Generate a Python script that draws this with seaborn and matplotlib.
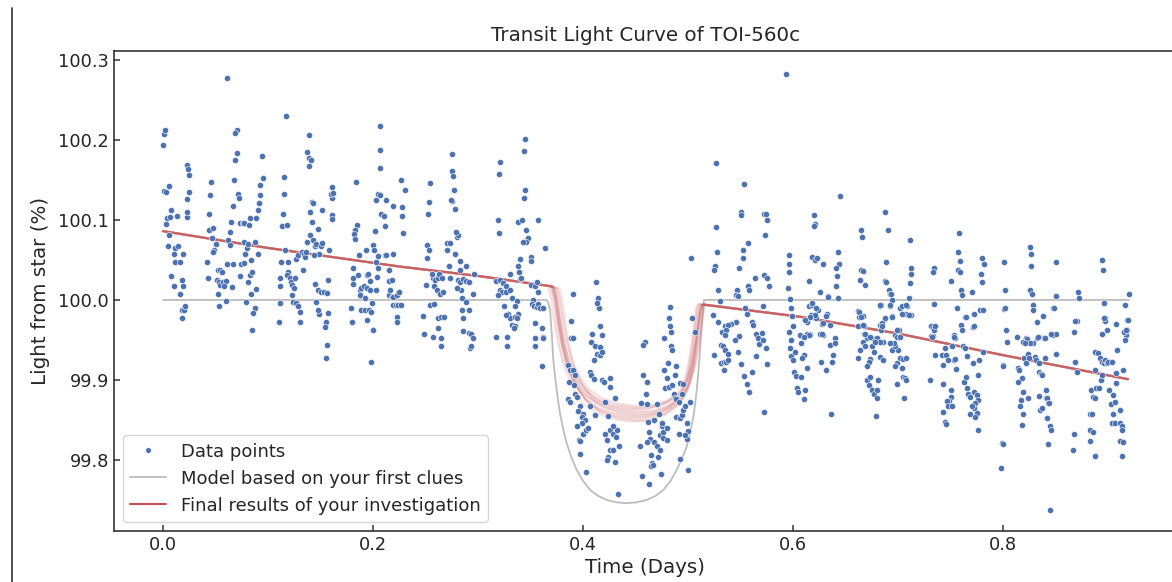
import numpy as np
import matplotlib
matplotlib.use("Agg")
import matplotlib.pyplot as plt
from matplotlib.lines import Line2D
import seaborn as sns

# ---------------- data ----------------
# pre-transit observations (days, % of star light)
pre_time = [
    0.000,0.001,0.002,0.001,0.003,0.006,0.003,0.004,0.007,0.008,0.013,0.006,0.005,0.011,0.014,0.010,0.011,0.016,0.008,0.010,
    0.019,0.018,0.019,0.016,0.018,0.020,0.018,0.021,0.023,0.024,0.025,0.023,0.025,0.023,0.023,
    0.046,0.045,0.044,0.044,0.048,0.047,0.050,0.049,0.048,0.042,0.043,0.052,0.054,0.056,0.051,0.053,0.054,0.057,0.060,0.058,
    0.052,0.053,0.060,0.066,0.061,0.070,0.069,0.070,0.069,0.068,0.071,0.072,0.067,0.065,0.064,0.062,0.064,0.061,0.067,0.074,
    0.077,0.073,0.076,0.077,0.082,0.083,0.077,0.080,0.078,0.081,0.088,0.090,0.073,0.084,0.083,0.085,0.081,0.089,0.084,0.079,
    0.088,0.086,0.085,0.094,0.095,0.092,0.092,0.091,0.090,0.089,
    0.117,0.115,0.115,0.114,0.113,0.118,0.116,0.112,0.111,0.111,0.111,0.110,0.119,0.119,0.118,0.121,0.122,0.123,0.126,0.125,
    0.123,0.124,0.127,0.129,0.130,0.130,0.127,0.129,0.132,0.134,0.135,0.136,0.133,0.137,0.140,0.143,0.145,0.146,0.149,0.144,
    0.139,0.137,0.139,0.141,0.139,0.142,0.143,0.140,0.142,0.148,0.150,0.151,0.145,0.148,0.150,0.153,0.156,0.157,0.146,0.149,
    0.148,0.155,0.154,0.157,0.158,0.161,0.161,0.160,0.162,0.161,0.161,0.151,0.1565,0.155,
    0.184,0.185,0.183,0.182,0.183,0.187,0.193,0.181,0.181,0.186,0.181,0.179,0.180,0.188,0.189,0.191,0.188,0.194,0.195,0.197,
    0.194,0.197,0.192,0.189,0.192,0.196,0.198,0.194,0.200,0.199,0.200,0.201,0.203,0.205,0.205,0.202,0.203,0.205,0.207,0.207,
    0.207,0.207,0.208,0.210,0.211,0.212,0.211,0.212,0.204,0.203,0.219,0.219,0.215,0.215,0.218,0.215,0.218,0.219,0.223,0.225,
    0.216,0.219,0.222,0.224,0.227,0.223,0.223,0.227,0.228,0.228,0.230,0.229,0.198,
    0.253,0.252,0.275,0.278,0.251,0.253,0.251,0.270,0.273,0.270,0.278,0.280,0.281,0.279,0.283,0.289,0.272,0.283,0.250,0.257,
    0.256,0.259,0.258,0.261,0.264,0.267,0.262,0.263,0.266,0.273,0.281,0.283,0.286,0.289,0.291,0.296,0.295,0.284,0.280,0.285,
    0.289,0.291,0.285,0.286,0.254,0.258,0.262,0.265,0.268,0.248,0.249,0.257,0.262,0.265,0.265,0.286,0.291,0.293,0.295,0.292,
    0.293,0.254,0.275,0.275,0.276,0.277,0.274,
    0.319,0.320,0.338,0.342,0.346,0.348,0.346,0.343,0.357,0.364,0.340,0.350,0.350,0.338,0.339,0.330,0.340,0.341,0.317,0.321,
    0.324,0.327,0.321,0.323,0.319,0.327,0.330,0.350,0.354,0.332,0.337,0.325,0.335,0.338,0.329,0.330,0.327,0.335,0.337,0.332,
    0.335,0.334,0.328,0.328,0.317,0.352,0.351,0.353,0.356,0.357,0.359,0.362,0.354,0.361,0.362,0.362,0.354,0.354,0.361,0.357,
    0.356,0.321,0.320,0.345,0.344,0.345,0.344,
]
pre_flux = [
    100.194,100.207,100.212,100.136,100.135,100.143,100.095,100.103,100.104,100.112,100.105,100.081,100.068,100.065,100.067,100.058,100.048,100.048,100.030,100.017,
    100.058,100.025,100.018,100.007,99.988,99.987,99.977,99.993,100.169,100.164,100.156,100.126,100.135,100.104,100.110,
    100.148,100.131,100.107,100.088,100.090,100.077,100.070,100.063,100.060,100.048,100.028,100.038,100.038,100.035,100.025,100.022,100.019,100.023,100.024,100.017,
    100.008,99.993,99.999,100.016,100.277,100.212,100.209,100.184,100.175,100.150,100.133,100.128,100.117,100.098,100.085,100.075,100.069,100.045,100.045,100.045,
    100.046,100.096,100.096,100.096,100.094,100.103,100.072,100.065,100.058,100.070,100.073,100.058,100.030,100.050,100.031,100.035,100.023,100.014,100.008,99.998,
    99.990,99.984,99.963,100.180,100.153,100.144,100.131,100.121,100.113,100.102,
    100.230,100.154,100.133,100.108,100.092,100.094,100.063,100.047,100.028,100.018,99.996,99.972,100.047,100.035,100.031,100.027,100.023,100.019,100.028,100.015,
    100.006,99.998,99.996,99.992,99.985,99.972,100.051,100.056,100.060,100.058,100.054,100.060,100.038,100.072,100.081,100.075,100.068,100.070,100.058,100.056,
    100.206,100.185,100.177,100.175,100.167,100.122,100.121,100.110,100.098,100.089,100.067,100.071,100.020,100.012,100.010,100.010,100.009,100.025,99.998,99.983,
    99.988,99.973,99.966,99.984,100.063,100.141,100.128,100.133,100.134,100.106,100.101,100.113,99.944,99.928,
    100.147,100.094,100.088,100.083,100.076,100.056,100.063,100.040,100.027,100.031,100.020,99.990,99.973,100.013,100.015,100.017,100.006,100.031,100.032,100.024,
    100.015,100.013,100.002,99.988,99.988,99.987,99.985,99.975,99.963,99.996,100.069,100.063,100.048,100.040,100.055,100.086,100.125,100.133,100.131,100.165,
    100.188,100.217,100.108,100.105,100.092,100.125,100.056,100.056,100.029,100.013,100.118,100.058,100.038,100.024,100.025,100.006,100.004,100.004,100.006,100.010,
    100.013,99.994,99.994,99.994,99.994,99.979,99.973,100.150,100.116,100.105,100.137,100.084,99.922,
    100.122,100.108,100.124,100.114,100.069,100.063,100.052,100.071,100.071,100.063,100.058,100.079,100.081,100.085,100.049,100.043,100.042,100.038,100.019,100.027,
    100.033,100.025,100.018,100.013,100.008,100.010,100.028,100.033,100.027,100.028,100.025,100.022,100.026,100.024,100.022,100.033,100.008,100.013,100.015,100.003,
    99.998,99.988,99.988,99.977,99.994,99.995,99.977,99.979,99.979,99.980,99.957,99.954,99.965,99.952,99.943,99.961,99.959,99.958,99.953,99.940,
    99.942,100.146,100.182,100.161,100.155,100.138,100.125,
    100.100,100.084,100.098,100.100,100.088,100.077,100.073,100.073,100.100,100.065,100.051,100.054,100.049,100.042,100.035,100.033,100.026,100.028,100.024,100.025,
    100.021,100.017,100.013,100.010,100.006,100.010,100.013,100.019,100.018,100.003,99.999,99.992,99.992,99.983,99.983,99.977,99.981,99.979,99.978,99.969,
    99.967,99.965,99.954,99.943,99.954,100.000,99.995,99.992,99.991,99.995,99.990,99.990,99.971,99.965,99.954,99.953,99.952,99.942,99.918,100.010,
    100.023,100.172,100.157,100.201,100.186,100.138,100.128,
]

# in-transit observations
mid_time = [
    0.390,0.389,0.389,0.390,0.386,0.388,0.390,0.392,0.387,0.391,0.386,0.388,0.392,0.394,0.397,0.395,0.400,0.399,0.402,0.399,
    0.394,0.396,0.397,0.400,0.403,0.405,0.397,0.403,0.407,0.408,0.410,0.407,0.411,0.412,0.414,0.415,0.413,0.416,0.409,0.408,
    0.411,0.413,0.418,0.416,0.416,0.418,0.410,0.418,0.420,0.426,0.426,0.430,0.421,0.424,0.421,0.423,0.426,0.429,0.431,0.432,
    0.429,0.426,0.424,0.423,0.429,0.434,0.430,0.433,
    0.459,0.457,0.457,0.461,0.460,0.455,0.461,0.470,0.472,0.462,0.468,0.463,0.464,0.454,0.461,0.468,0.470,0.473,0.471,0.473,
    0.476,0.480,0.475,0.476,0.475,0.480,0.465,0.466,0.465,0.467,0.463,0.456,0.474,0.483,0.482,0.483,0.484,0.484,0.485,0.477,
    0.481,0.477,0.480,0.478,0.482,0.485,0.489,0.488,0.492,0.495,0.487,0.488,0.489,0.489,0.492,0.494,0.495,0.497,0.502,0.494,
    0.491,0.491,0.499,0.500,0.499,0.497,0.492,0.500,0.504,0.507,0.503,
]
mid_flux = [
    100.007,99.974,99.953,99.953,99.919,99.913,99.912,99.906,99.898,99.894,99.876,99.873,99.883,99.879,99.867,99.861,99.858,99.854,99.850,99.846,
    99.842,99.825,99.824,99.833,99.838,99.840,99.808,99.785,99.910,99.906,99.901,99.867,99.856,100.022,100.003,99.990,99.996,99.968,99.958,99.948,
    99.942,99.933,99.956,99.941,99.931,99.935,99.925,99.900,99.897,99.903,99.891,99.878,99.873,99.855,99.833,99.825,99.838,99.833,99.829,99.838,
    99.842,99.813,99.804,99.800,99.813,99.817,99.798,99.757,
    99.948,99.944,99.906,99.897,99.882,99.871,99.870,99.870,99.858,99.847,99.850,99.835,99.826,99.818,99.823,99.823,99.817,99.812,99.804,99.831,
    99.827,99.825,99.842,99.835,99.846,99.840,99.806,99.796,99.792,99.794,99.770,99.780,99.783,99.991,99.977,99.967,99.960,99.942,99.938,99.952,
    99.921,99.913,99.902,99.890,99.891,99.894,99.918,99.906,99.896,99.895,99.883,99.877,99.876,99.854,99.852,99.856,99.863,99.867,99.873,99.883,
    99.873,99.833,99.846,99.836,99.826,99.831,99.801,99.787,99.977,99.960,100.053,
]

# post-transit observations
post_time = [
    0.527,0.528,0.526,0.525,0.529,0.530,0.524,0.529,0.525,0.532,0.535,0.531,0.533,0.535,0.538,0.531,0.534,0.536,0.534,0.538,
    0.527,0.553,0.550,0.550,0.572,0.574,0.593,0.620,
    0.557,0.552,0.552,0.549,0.547,0.546,0.548,0.557,0.558,0.554,0.556,0.546,0.541,0.538,0.536,0.535,0.549,0.561,0.562,0.565,
    0.567,0.570,0.575,0.573,0.572,0.575,0.577,0.571,0.564,
    0.545,0.548,0.550,0.553,0.556,0.558,0.561,0.565,0.568,0.572,0.575,0.574,0.571,0.596,0.598,0.601,0.604,0.597,0.600,0.603,
    0.598,0.605,0.602,
    0.596,0.596,0.596,0.595,0.597,0.598,0.599,0.600,0.607,0.615,0.621,0.620,0.618,0.621,0.623,0.629,0.626,0.615,0.618,0.618,
    0.617,0.622,0.624,0.613,0.613,0.628,0.629,0.632,0.631,0.635,0.627,0.629,0.616,0.616,0.633,0.633,0.645,0.643,0.644,0.641,
    0.642,0.641,0.643,0.640,
    0.608,0.610,0.609,0.613,0.608,0.611,0.610,0.636,0.631,0.638,0.637,0.627,0.635,0.640,0.622,0.621,0.616,0.611,0.613,0.615,
    0.610,0.626,0.628,
    0.665,0.666,0.665,0.667,0.664,0.669,0.662,0.663,0.667,0.662,0.668,0.668,0.670,0.675,0.688,0.690,0.689,0.688,0.689,0.691,
    0.692,0.693,0.694,0.683,0.684,0.692,0.688,0.694,0.683,0.684,0.697,0.699,0.702,0.701,0.709,0.710,0.708,0.712,0.711,0.711,
    0.712,0.712,
    0.663,0.665,0.667,0.669,0.673,0.680,0.685,0.685,0.688,0.694,0.692,0.704,0.708,0.710,0.704,0.699,0.702,0.683,
    0.662,0.670,0.672,0.675,0.677,0.680,0.679,0.680,0.681,0.673,0.677,0.683,0.686,0.673,0.672,0.670,0.664,0.667,0.669,0.675,
    0.699,0.697,0.702,0.704,0.705,0.707,0.708,0.705,0.708,0.699,0.706,0.694,0.700,0.697,0.696,0.692,0.686,0.683,0.678,
    0.734,0.733,0.734,0.731,0.733,0.734,0.731,0.733,0.750,0.753,0.754,0.758,0.757,0.759,0.757,0.759,0.760,0.761,0.756,0.760,
    0.761,0.764,0.770,0.772,0.771,0.778,0.781,0.779,0.780,0.780,0.782,
    0.735,0.765,0.772,
    0.730,0.735,0.732,0.743,0.743,0.742,0.745,0.746,0.748,0.751,0.753,0.754,0.755,0.750,0.750,0.749,0.747,0.748,0.751,0.743,
    0.745,0.746,0.753,0.762,0.764,0.766,0.771,0.763,0.765,0.766,0.767,0.769,0.772,0.775,0.776,0.773,0.772,0.775,0.770,0.769,
    0.773,0.776,0.776,0.777,0.781,
    0.801,0.802,0.801,0.803,0.813,0.822,0.826,0.827,0.827,0.826,0.828,0.829,0.829,0.832,0.838,0.834,0.839,0.848,0.849,0.850,
    0.850,0.848,0.850,
    0.802,0.819,0.823,
    0.799,0.800,0.798,0.800,0.800,0.804,0.814,0.815,0.818,0.814,0.819,0.817,0.816,0.819,0.818,0.820,0.824,0.825,0.822,0.830,
    0.831,0.834,0.824,0.834,0.836,0.837,0.834,0.835,0.837,0.841,0.842,0.843,0.844,0.842,0.845,0.846,0.843,0.841,0.840,0.829,
    0.826,0.821,0.832,0.833,0.845,0.850,0.840,0.846,
    0.871,0.872,0.870,0.868,0.894,0.895,0.896,0.897,0.897,0.899,0.894,0.908,0.916,0.918,0.919,0.918,0.917,0.920,
    0.868,0.867,0.869,0.870,0.884,0.883,0.885,0.883,0.886,0.883,0.888,0.886,0.888,0.889,0.891,0.888,0.890,0.892,0.894,0.896,
    0.897,0.899,0.900,0.904,0.888,0.893,0.894,0.901,0.905,0.903,0.907,0.905,0.904,0.907,0.908,0.911,0.911,0.913,0.913,0.911,
    0.914,0.913,0.908,0.909,0.914,0.916,0.915,0.917,0.896,0.869,
]
post_flux = [
    100.091,100.060,100.042,100.038,100.013,99.999,99.981,99.973,99.931,99.960,99.968,99.944,99.942,99.938,99.933,99.921,99.922,99.922,99.912,99.925,
    100.171,100.145,100.110,100.106,100.107,100.107,100.283,100.106,
    100.071,100.063,100.052,100.040,100.013,100.006,100.005,100.017,100.013,99.990,99.983,99.972,99.970,99.969,99.963,99.956,99.955,99.972,99.969,99.958,
    99.953,99.959,100.100,100.081,100.031,100.028,100.018,99.992,100.028,
    99.950,99.935,99.920,99.905,99.895,99.885,99.910,99.930,99.945,99.860,99.920,99.940,99.950,99.960,99.930,99.910,99.890,99.940,99.925,99.905,
    99.950,99.885,99.935,
    100.056,100.045,100.035,100.015,100.001,99.990,99.980,99.967,99.956,100.024,100.095,100.093,100.054,100.050,100.052,100.045,100.010,99.992,99.994,99.996,
    99.981,99.978,99.988,99.973,99.972,99.970,99.971,99.983,99.980,99.969,99.958,99.956,99.958,99.956,100.005,100.004,100.130,100.060,100.045,100.040,
    100.030,100.018,100.003,99.952,
    99.946,99.931,99.927,99.915,99.904,99.888,99.876,99.858,99.913,99.931,99.923,99.923,99.944,99.946,99.990,99.981,99.979,99.975,99.958,99.956,
    99.954,99.958,99.958,
    100.088,100.079,100.038,100.036,100.025,100.019,99.986,99.979,99.980,99.967,99.968,99.958,99.953,99.953,100.110,100.088,100.047,100.024,100.022,100.013,
    100.008,100.008,100.000,99.993,99.994,99.993,99.976,99.980,99.969,99.963,99.956,99.954,99.990,99.963,99.993,100.002,99.983,99.981,100.021,100.075,
    100.040,100.033,
    99.985,99.979,99.969,99.958,99.954,99.952,99.971,99.967,99.977,99.979,99.994,99.992,99.994,99.981,99.983,99.963,99.954,99.994,
    99.927,99.900,99.894,99.888,99.883,99.877,99.855,99.888,99.900,99.904,99.935,99.929,99.925,99.926,99.923,99.917,99.938,99.948,99.942,99.942,
    99.921,99.917,99.927,99.915,99.904,99.902,99.900,99.926,99.927,99.895,99.877,99.938,99.938,99.942,99.946,99.946,99.947,99.948,99.947,
    100.040,100.035,99.995,99.967,99.965,99.963,99.955,99.955,100.024,99.956,99.953,100.084,100.060,100.049,100.037,100.035,100.012,100.006,99.990,99.969,
    99.963,99.979,100.010,99.982,99.966,99.988,99.988,100.033,100.022,100.053,100.045,
    99.967,99.979,99.967,
    99.900,99.931,99.954,99.895,99.919,99.931,99.940,99.931,99.925,99.942,99.925,99.926,99.914,99.887,99.879,99.874,99.874,99.868,99.867,99.860,
    99.848,99.845,99.954,99.942,99.940,99.930,99.921,99.898,99.904,99.890,99.883,99.879,99.885,99.881,99.875,99.871,99.865,99.859,99.868,99.858,
    99.854,99.838,99.906,99.925,99.935,
    100.047,100.013,99.989,99.963,99.954,99.953,100.066,100.057,100.043,100.013,100.007,99.994,99.988,99.973,99.980,99.954,99.953,99.990,99.990,100.047,
    100.005,99.956,99.958,
    99.990,99.948,99.951,
    99.821,99.820,99.790,99.919,99.917,99.947,99.915,99.913,99.902,99.898,99.885,99.875,99.867,99.858,99.844,99.927,99.933,99.927,99.921,99.929,
    99.925,99.921,99.877,99.910,99.908,99.906,99.880,99.863,99.865,99.877,99.878,99.871,99.871,99.852,99.842,99.838,99.820,99.888,99.927,99.946,
    99.946,99.946,99.952,99.954,99.738,99.933,99.952,99.958,
    100.010,100.003,99.974,99.960,100.050,100.038,99.996,99.978,99.974,99.963,99.957,99.970,99.994,99.975,99.975,99.963,99.956,100.008,
    99.833,99.812,99.923,99.910,99.888,99.858,99.858,99.838,99.835,99.824,99.805,99.879,99.877,99.890,99.890,99.935,99.934,99.927,99.923,99.921,
    99.925,99.921,99.922,99.923,99.913,99.900,99.906,99.888,99.881,99.870,99.873,99.858,99.846,99.846,99.896,99.863,99.846,99.843,99.838,99.824,
    99.823,99.805,99.909,99.938,99.913,99.950,99.960,99.963,99.977,99.974,
]

# model from the first clues (grey)
clue_time = [0.000, 0.3654, 0.3670, 0.3686, 0.3702, 0.3717, 0.3733, 0.3749, 0.3765, 0.3781, 0.3812, 0.3844,
             0.3890, 0.3940, 0.4000, 0.4067, 0.4145, 0.4225, 0.4320, 0.4416, 0.4510, 0.4606, 0.4690, 0.4765,
             0.4830, 0.4892, 0.4940, 0.4987, 0.5020, 0.5051, 0.5068, 0.5083, 0.5100, 0.5114, 0.5130, 0.5146,
             0.5152, 0.920]
clue_flux = [100.000, 100.000, 99.996, 99.9875, 99.958, 99.925, 99.905, 99.8875, 99.872, 99.858, 99.838, 99.821,
             99.803, 99.7875, 99.774, 99.7625, 99.755, 99.750, 99.747, 99.746, 99.747, 99.750, 99.755, 99.7625,
             99.773, 99.7875, 99.801, 99.8167, 99.834, 99.854, 99.870, 99.8875, 99.912, 99.9375, 99.967, 99.9917,
             100.000, 100.000]

# final fitted model (red)
final_time = [0.000, 0.100, 0.2257, 0.300, 0.3702, 0.3724, 0.3749, 0.3775, 0.3813, 0.3860, 0.3940, 0.4035,
              0.4162, 0.4321, 0.4479, 0.4638, 0.4797, 0.4924, 0.4987, 0.5035, 0.5067, 0.5092, 0.5114, 0.5130,
              0.5162, 0.5400, 0.6067, 0.700, 0.800, 0.919]
final_flux = [100.086, 100.065, 100.0417, 100.030, 100.017, 100.0146, 100.000, 99.975, 99.946, 99.921, 99.898, 99.881,
              99.869, 99.862, 99.859, 99.860, 99.867, 99.879, 99.894, 99.917, 99.942, 99.967, 99.988, 99.994,
              99.994, 99.990, 99.979, 99.958, 99.931, 99.901]
# out-of-transit trend of the final model
trend_time = [0.000, 0.2257, 0.3702, 0.5162, 0.6067, 0.919]
trend_flux = [100.086, 100.0417, 100.017, 99.994, 99.979, 99.901]
# spread of the posterior sample curves (duration factor, depth factor, time shift)
sample_dur = [1.00, 0.97, 1.03, 0.99, 1.02, 0.96, 1.04, 1.01, 0.98, 1.00, 1.03, 0.97, 1.02, 0.99, 1.01]
sample_depth = [1.00, 1.05, 0.95, 1.07, 0.96, 1.02, 0.98, 1.06, 0.94, 1.03, 1.01, 0.97, 1.04, 0.99, 1.08]
sample_shift = [0.000, -0.002, 0.002, 0.001, -0.001, 0.003, -0.003, 0.000, 0.002, -0.002, 0.001, -0.001, 0.000, 0.003, -0.003]
transit_mid = 0.443
transit_start, transit_end = 0.3702, 0.5162

# ---------------- drawing ----------------
sns.set_theme(style="ticks", font_scale=1.15)
plt.rcParams["font.family"] = ["DejaVu Sans"]

fig = plt.figure(figsize=(11.72, 5.82), dpi=100)
ax = fig.add_axes([114 / 1172, 51 / 582, 1063 / 1172, 480 / 582])

blue = "#4C72B0"
red = "#C44E52"
grey = "#BDBDBD"

time_all = np.concatenate([pre_time, mid_time, post_time])
flux_all = np.concatenate([pre_flux, mid_flux, post_flux])
sns.scatterplot(x=time_all, y=flux_all, s=20, color=blue, edgecolor="white",
                linewidth=0.4, zorder=3, ax=ax, legend=False)

sns.lineplot(x=clue_time, y=clue_flux, color=grey, linewidth=1.3, sort=False,
             estimator=None, zorder=2, ax=ax, legend=False)

ft = np.array(final_time)
ff = np.array(final_flux)
dip = ff - np.interp(ft, trend_time, trend_flux)
inside = (ft > transit_start) & (ft < transit_end)
for d, k, s in zip(sample_dur, sample_depth, sample_shift):
    tt = np.where(inside, transit_mid + (ft - transit_mid) * d + s, ft)
    yy = np.interp(tt, trend_time, trend_flux) + dip * k
    sns.lineplot(x=tt, y=yy, color=red, alpha=0.13, linewidth=1.6, sort=False,
                 estimator=None, zorder=2.5, ax=ax, legend=False)

ax.set_xlim(-0.0467, 0.9657)
ax.set_ylim(99.7112, 100.3112)
ax.set_xticks([0.0, 0.2, 0.4, 0.6, 0.8])
ax.set_xticklabels(["0.0", "0.2", "0.4", "0.6", "0.8"])
ax.set_yticks([99.8, 99.9, 100.0, 100.1, 100.2, 100.3])
ax.set_yticklabels(["99.8", "99.9", "100.0", "100.1", "100.2", "100.3"])
for sp in ax.spines.values():
    sp.set_visible(True)
    sp.set_color("#333333")
    sp.set_linewidth(1.2)
ax.tick_params(axis="both", direction="in", length=4, width=1.1, colors="#333333",
               labelcolor="#262626", labelsize=12.8)

ax.set_title("Transit Light Curve of TOI-560c", color="#262626", pad=7, fontsize=14.3)
ax.set_xlabel("Time (Days)", color="#262626", fontsize=14.3, labelpad=3)
ax.set_ylabel("Light from star (%)", color="#262626", fontsize=14.3, labelpad=6)

handles = [
    Line2D([], [], linestyle="none", marker="o", markersize=4, color=blue,
           markeredgecolor="white", markeredgewidth=0.3),
    Line2D([], [], color=grey, linewidth=1.3),
    Line2D([], [], color=red, linewidth=1.5),
]
labels = ["Data points", "Model based on your first clues", "Final results of your investigation"]
ax.legend(handles, labels, loc="lower left", frameon=True, borderaxespad=0.5, fontsize=13)

fig.add_artist(Line2D([11.5 / 1172, 11.5 / 1172], [0, 1 - 8 / 582],
                      color="#333333", linewidth=1.2, transform=fig.transFigure))

fig.savefig("out.png", dpi=100)
